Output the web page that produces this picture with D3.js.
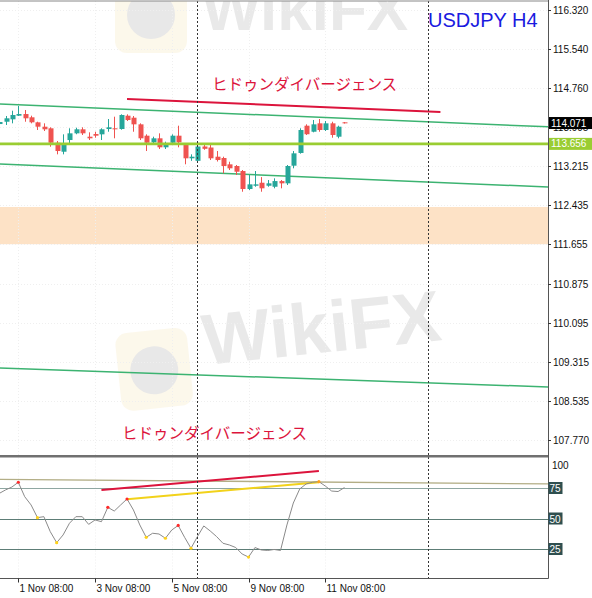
<!DOCTYPE html>
<html><head><meta charset="utf-8">
<script src="https://cdn.jsdelivr.net/npm/d3@7"></script>
<style>body{margin:0;background:#fff}svg{display:block}</style>
</head><body>
<script>
// ---------- DATA ----------
const symbolTitle = "USDJPY H4";
const divergenceLabel = "ヒドゥンダイバージェンス";
const opens  = [114.051,114.097,114.145,114.217,114.250,114.185,114.085,113.998,113.966,113.679,113.500,113.733,113.866,113.946,113.799,113.852,113.846,113.952,113.966,113.952,114.217,114.177,114.045,113.819,113.687,113.767,113.588,113.679,113.819,113.634,113.369,113.319,113.604,113.584,113.401,113.375,113.249,113.216,113.116,112.758,112.823,112.883,112.823,112.803,112.916,112.871,113.222,113.475,114.018,113.898,114.065,113.932,114.065,113.799,114.085];
const highs  = [114.131,114.211,114.316,114.410,114.330,114.217,114.097,114.065,113.986,113.713,113.846,113.966,113.978,113.986,113.886,113.898,113.966,114.151,114.197,114.244,114.244,114.211,114.065,113.846,113.799,113.866,113.700,113.846,114.018,113.667,113.448,113.624,113.634,113.634,113.514,113.401,113.301,113.236,113.136,113.037,113.116,112.995,112.937,112.971,112.937,113.236,113.514,113.966,114.045,114.131,114.151,114.111,114.097,114.018,114.091];
const lows   = [114.012,114.032,114.065,114.211,114.097,114.065,113.932,113.912,113.600,113.448,113.448,113.647,113.848,113.833,113.733,113.779,113.733,113.898,113.767,113.938,114.111,113.898,113.733,113.514,113.653,113.554,113.554,113.647,113.588,113.250,113.319,113.305,113.538,113.335,113.305,113.070,113.136,113.037,112.704,112.738,112.803,112.704,112.803,112.772,112.772,112.838,113.170,113.461,113.833,113.886,113.898,113.912,113.779,113.767,114.061];
const closes = [114.091,114.165,114.231,114.250,114.165,114.085,113.998,113.946,113.679,113.514,113.667,113.866,113.946,113.866,113.767,113.819,113.946,113.986,113.946,114.231,114.131,114.045,113.767,113.679,113.767,113.588,113.634,113.819,113.687,113.369,113.401,113.604,113.558,113.369,113.335,113.216,113.170,113.102,112.758,112.851,112.851,112.772,112.871,112.916,112.871,113.216,113.468,113.932,113.848,114.045,113.932,114.065,113.833,113.998,114.071];
const oscValues = [70.5,73.4,75.8,79.7,67.9,61.1,50.7,51.5,39.2,30.2,36.5,46.1,51.5,51.5,45.2,48.8,47.4,59.2,56.1,61.1,66.0,57.0,44.7,34.6,37.9,37.3,33.8,40.6,44.3,34.6,25.6,35.1,43.9,39.8,35.2,29.7,28.3,26.2,20.9,18.4,26.2,24.2,23.8,24.6,23.8,44.7,62.7,74.2,78.3,79.7,80.2,76.6,72.5,72.1,75.4];
const redDots = [3,17,20,28];
const yellowDots = [6,9,23,26,30,39];
const orangeDots = [50];
const timeTickBars = [3,15,27,39,51];
const timeTickLabels = ["1 Nov 08:00","3 Nov 08:00","5 Nov 08:00","9 Nov 08:00","11 Nov 08:00"];
const priceTicks = [116.320,115.540,114.760,113.995,113.215,112.435,111.655,110.875,110.095,109.315,108.535,107.770];
const oscLevels = [75,50,25];
const oscTopLabel = "100";
const lastPrice = 114.071;
const supportPrice = 113.656;
const zonePrices = [111.66, 112.40];
const channelUpper = [[0,114.450],[86,113.995]];
const channelLower = [[0,113.256],[86,112.797]];
const channelFar   = [[0,109.196],[86,108.818]];
const hiddenDivPrice = [[20,114.549],[69,114.290]];
const oscRedLine = [[16,73.4],[50,88.9]];
const oscYellowLine = [[20,65.7],[50,79.7]];
const oscSlowLine = [[0,82.1],[86,78.3]];
const separatorBars = [31,67];

// ---------- LAYOUT ----------
const W = 592, H = 598, R = 548;
const mainTop = 1, mainBot = 455, subTop = 457.5, subBot = 578.5;
const x = d3.scaleLinear().domain([3,51]).range([18.3,325.3]);
const y = d3.scaleLinear().domain([107.77,116.32]).range([439.7,10]);
const yo = d3.scaleLinear().domain([0,100]).range([579.5,457.5]);
const bull = "#26a69a", bear = "#ef5350";
const FONT = "'Liberation Sans', Arial, sans-serif";

const svg = d3.select("body").append("svg").attr("width",W).attr("height",H);
svg.append("rect").attr("width",W).attr("height",H).attr("fill","#fff");
const defs = svg.append("defs");
defs.append("clipPath").attr("id","cm").append("rect").attr("x",0).attr("y",mainTop).attr("width",R).attr("height",mainBot-mainTop);
defs.append("clipPath").attr("id","cs").append("rect").attr("x",0).attr("y",subTop).attr("width",R).attr("height",subBot-subTop);

// watermark
function watermark(g, ix, iy, tx, ty, size, rot){
  const w = g.append("g").attr("transform",`rotate(${rot},${tx},${ty})`).attr("opacity",0.5);
  w.append("rect").attr("x",ix).attr("y",iy).attr("width",72).attr("height",78).attr("rx",12).attr("fill","#f7e7b8").attr("opacity",0.55);
  w.append("circle").attr("cx",ix+36).attr("cy",iy+40).attr("r",24).attr("fill","#d2d2d2");
  w.append("text").attr("x",tx).attr("y",ty).attr("font-family",FONT).attr("font-weight","bold")
    .attr("font-size",size).attr("fill","#d4d4d4").text("WikiFX");
}
const wm = svg.append("g").attr("clip-path","url(#cm)");
watermark(wm,115,-25,202,30,62,0);
watermark(wm,118,325,205,365,72,-6);

const gm = svg.append("g").attr("clip-path","url(#cm)");
// zone
gm.append("rect").attr("x",0).attr("width",R).attr("y",y(zonePrices[1])).attr("height",y(zonePrices[0])-y(zonePrices[1])).attr("fill","#fde2c6");
// grid
gm.selectAll("line.gh").data(priceTicks).join("line").attr("x1",0).attr("x2",R).attr("y1",d=>Math.round(y(d))+0.5).attr("y2",d=>Math.round(y(d))+0.5)
  .attr("stroke","#efefef").attr("stroke-dasharray","1,2");
gm.selectAll("line.gv").data(timeTickBars).join("line").attr("x1",d=>Math.round(x(d))+0.5).attr("x2",d=>Math.round(x(d))+0.5).attr("y1",mainTop).attr("y2",mainBot)
  .attr("stroke","#efefef").attr("stroke-dasharray","1,2");

const line = d3.line().x(d=>x(d[0])).y(d=>y(d[1]));
[channelUpper,channelLower,channelFar].forEach(c=>{
  gm.append("path").attr("d",line(c)).attr("stroke","#3cb371").attr("stroke-width",1.5).attr("fill","none");
});
// candles
const bars = d3.range(opens.length).map(i=>({i,o:opens[i],h:highs[i],l:lows[i],c:closes[i]}));
const cg = gm.append("g");
cg.selectAll("line.w").data(bars).join("line").attr("x1",d=>Math.round(x(d.i))+0.5).attr("x2",d=>Math.round(x(d.i))+0.5)
  .attr("y1",d=>y(d.h)).attr("y2",d=>y(d.l)).attr("stroke",d=>d.c>=d.o?bull:bear).attr("stroke-width",1);
cg.selectAll("rect.b").data(bars).join("rect").attr("x",d=>Math.round(x(d.i))-1.5).attr("width",5)
  .attr("y",d=>y(Math.max(d.o,d.c))).attr("height",d=>Math.max(1,Math.abs(y(d.o)-y(d.c))))
  .attr("fill",d=>d.c>=d.o?bull:bear);
// support line
gm.append("line").attr("x1",0).attr("x2",R).attr("y1",y(supportPrice)).attr("y2",y(supportPrice)).attr("stroke","#9acd32").attr("stroke-width",2.6);
// hidden divergence line on price
gm.append("path").attr("d",line(hiddenDivPrice)).attr("stroke","#dc143c").attr("stroke-width",2).attr("fill","none");
// texts
svg.append("text").attr("x",212).attr("y",90).attr("font-family","'Noto Sans CJK JP'").attr("font-size",15.5).attr("fill","#dc143c").text(divergenceLabel);
svg.append("text").attr("x",122).attr("y",439).attr("font-family","'Noto Sans CJK JP'").attr("font-size",15.5).attr("fill","#dc143c").text(divergenceLabel);
svg.append("text").attr("x",428).attr("y",27).attr("font-family",FONT).attr("font-size",20).attr("fill","#1a1ae0").text(symbolTitle);

// ---------- SUB PANEL ----------
const gs = svg.append("g").attr("clip-path","url(#cs)");
const lo = d3.line().x(d=>x(d[0])).y(d=>yo(d[1]));
gs.selectAll("line.gv").data(timeTickBars).join("line").attr("x1",d=>Math.round(x(d))+0.5).attr("x2",d=>Math.round(x(d))+0.5).attr("y1",subTop).attr("y2",subBot)
  .attr("stroke","#efefef").attr("stroke-dasharray","1,2");
gs.selectAll("line.lv").data(oscLevels).join("line").attr("x1",0).attr("x2",R).attr("y1",d=>Math.round(yo(d))+0.5).attr("y2",d=>Math.round(yo(d))+0.5)
  .attr("stroke",d=>d===75?"#8fa7a2":"#5d7d76").attr("stroke-width",1);
gs.append("path").attr("d",lo(oscSlowLine)).attr("stroke","#b3ae86").attr("stroke-width",1.3).attr("fill","none");
gs.append("path").attr("d",lo(oscRedLine)).attr("stroke","#dc143c").attr("stroke-width",2).attr("fill","none");
gs.append("path").attr("d",lo(oscYellowLine)).attr("stroke","#f2d21a").attr("stroke-width",2).attr("fill","none");
gs.append("path").attr("d",d3.line().x((d,i)=>x(i)).y(d=>yo(d))(oscValues)).attr("stroke","#8a8a8a").attr("stroke-width",1).attr("fill","none");
const dot = (arr,col)=>gs.selectAll(null).data(arr).join("circle").attr("cx",d=>x(d)).attr("cy",d=>yo(oscValues[d])).attr("r",1.6).attr("fill",col);
dot(redDots,"#ff2a2a"); dot(yellowDots,"#ffd21a"); dot(orangeDots,"#ffa31a");

// separators (dashed verticals)
svg.selectAll("line.sep").data(separatorBars).join("line").attr("x1",d=>Math.round(x(d))+0.5).attr("x2",d=>Math.round(x(d))+0.5)
  .attr("y1",mainTop).attr("y2",subBot).attr("stroke","#333").attr("stroke-dasharray","2,2");

// frames
svg.append("line").attr("x1",0).attr("x2",R).attr("y1",1).attr("y2",1).attr("stroke","#888");
svg.append("rect").attr("x",0).attr("y",mainBot).attr("width",R).attr("height",2.5).attr("fill","#707070");
svg.append("line").attr("x1",0).attr("x2",R+0.5).attr("y1",subBot).attr("y2",subBot).attr("stroke","#555");
svg.append("line").attr("x1",R+0.5).attr("x2",R+0.5).attr("y1",0).attr("y2",subBot).attr("stroke","#555");

// price axis
const ya = svg.append("g");
priceTicks.forEach(p=>{
  const yy = Math.round(y(p))+0.5;
  ya.append("line").attr("x1",R).attr("x2",R+3).attr("y1",yy).attr("y2",yy).attr("stroke","#333");
  ya.append("text").attr("x",553).attr("y",yy+3.5).attr("font-family",FONT).attr("font-size",10).attr("fill","#111").text(p.toFixed(3));
});
function priceTag(p,bg){
  const yy = y(p);
  ya.append("rect").attr("x",R+1).attr("y",yy-6).attr("width",W-R-1).attr("height",12).attr("fill",bg);
  ya.append("text").attr("x",551).attr("y",yy+3.5).attr("font-family",FONT).attr("font-size",10).attr("fill","#fff").text(p.toFixed(3));
}
priceTag(lastPrice,"#000");
priceTag(supportPrice,"#9acd32");
// osc axis
svg.append("text").attr("x",552).attr("y",yo(100)+11).attr("font-family",FONT).attr("font-size",10).attr("fill","#111").text(oscTopLabel);
oscLevels.forEach(v=>{
  const yy = yo(v);
  svg.append("rect").attr("x",R+0.5).attr("y",yy-6).attr("width",14).attr("height",12).attr("fill","#2f4f4f");
  svg.append("text").attr("x",R+1.5).attr("y",yy+4).attr("font-family",FONT).attr("font-size",10).attr("fill","#fff").text(v);
});
// time axis
const xa = svg.append("g");
timeTickBars.forEach((b,k)=>{
  const xx = Math.round(x(b))+0.5;
  xa.append("line").attr("x1",xx).attr("x2",xx).attr("y1",subBot).attr("y2",subBot+4).attr("stroke","#333");
  xa.append("text").attr("x",xx+1).attr("y",592).attr("font-family",FONT).attr("font-size",10).attr("fill","#111").text(timeTickLabels[k]);
});
</script>
</body></html>
